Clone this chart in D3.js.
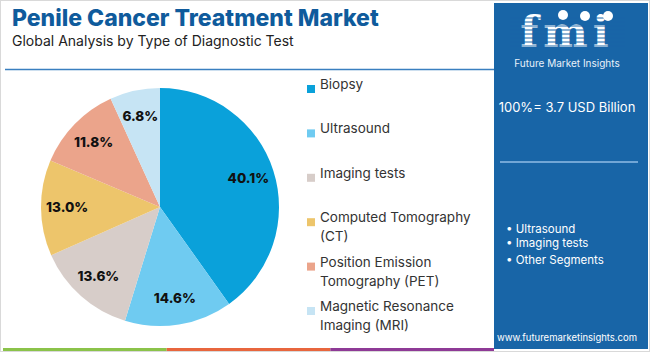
<!DOCTYPE html>
<html>
<head>
<meta charset="utf-8">
<script src="https://cdn.jsdelivr.net/npm/d3@7"></script>
<style>
  body { margin: 0; background: #fff; }
  svg { display: block; font-family: "Inter", "Noto Sans", sans-serif; }
</style>
</head>
<body>
<svg id="chart" width="650" height="352"></svg>
<script>
// data
const categories = ["Biopsy", "Ultrasound", "Imaging tests", "Computed Tomography (CT)",
  "Position Emission Tomography (PET)", "Magnetic Resonance Imaging (MRI)"]
const legend_lines = [["Biopsy"], ["Ultrasound"], ["Imaging tests"], ["Computed Tomography", "(CT)"],
  ["Position Emission", "Tomography (PET)"], ["Magnetic Resonance", "Imaging (MRI)"]]
const shares = [40.1, 14.6, 13.6, 13.0, 11.8, 6.8]
const slice_colors = ["#0aa1da", "#6fcbf1", "#d7cdc9", "#edc56b", "#eba48b", "#c6e4f4"]
const side_bullets = ["Ultrasound", "Imaging tests", "Other Segments"]
const total_label = "100%= 3.7 USD Billion"
const stripe_colors = ["#8bc34a", "#e8663d", "#8e3a96"]

const svg = d3.select("#chart")

// frame
svg.append("rect").attr("x", 0.5).attr("y", 0.5).attr("width", 649).attr("height", 351)
  .attr("fill", "#fff").attr("stroke", "#d9d9d9")

// title
svg.append("text").attr("x", 12).attr("y", 26)
  .attr("font-size", 23).attr("font-weight", 800).attr("fill", "#0f5b9c")
  .text("Penile Cancer Treatment Market")
svg.append("text").attr("x", 12).attr("y", 46)
  .attr("font-size", 14).attr("fill", "#222")
  .text("Global Analysis by Type of Diagnostic Test")
svg.append("line").attr("x1", 5).attr("x2", 494).attr("y1", 69.5).attr("y2", 69.5)
  .attr("stroke", "#3a7fc0").attr("stroke-width", 1.5)

// bottom stripe
const stripe = d3.scaleBand().domain(d3.range(stripe_colors.length)).range([3, 494])
svg.selectAll("rect.stripe").data(stripe_colors).join("rect")
  .classed("stripe", true)
  .attr("x", (d, i) => stripe(i)).attr("y", 348)
  .attr("width", stripe.bandwidth()).attr("height", 3)
  .attr("fill", d => d)

// pie
const cx = 160, cy = 207, R = 119
const pie = d3.pie().sort(null).value(d => d)
const arc = d3.arc().innerRadius(0).outerRadius(R)
const label_arc = d3.arc().innerRadius(R * 0.78).outerRadius(R * 0.78)
const g = svg.append("g").attr("transform", `translate(${cx},${cy})`)
const arcs = pie(shares)
g.selectAll("path").data(arcs).join("path")
  .attr("d", arc)
  .attr("fill", (d, i) => slice_colors[i])
g.selectAll("text").data(arcs).join("text")
  .attr("transform", d => `translate(${label_arc.centroid(d)})`)
  .attr("text-anchor", "middle").attr("dy", "0.35em")
  .attr("font-size", 13.5).attr("font-weight", 800).attr("fill", "#111")
  .text(d => d3.format(".1f")(d.data) + "%")

// legend
const legend_y = d3.scalePoint().domain(categories).range([89, 311])
const lg = svg.selectAll("g.legend").data(categories).join("g")
  .classed("legend", true)
  .attr("transform", d => `translate(307,${legend_y(d)})`)
lg.append("rect").attr("x", 0).attr("y", -4).attr("width", 8).attr("height", 8)
  .attr("fill", (d, i) => slice_colors[i])
lg.append("text").attr("x", 13).attr("dy", "0.35em")
  .attr("font-size", 13.5).attr("fill", "#333")
  .selectAll("tspan").data((d, i) => legend_lines[i]).join("tspan")
    .attr("x", 13).attr("dy", (d, i) => i ? 19 : 0)
    .text(d => d)

// side panel
const side = svg.append("g")
side.append("rect").attr("x", 494).attr("y", 3).attr("width", 154).attr("height", 346)
  .attr("fill", "#1865a7")
// logo
const logo = side.append("g")
logo.append("text").attr("x", 567).attr("y", 47).attr("text-anchor", "middle")
  .attr("font-family", "DejaVu Serif").attr("font-weight", 700)
  .attr("font-size", 42).attr("fill", "#fff").attr("letter-spacing", 5)
  .text("fmi")
logo.selectAll("line").data(d3.range(18, 49, 4)).join("line")
  .attr("x1", 510).attr("x2", 625).attr("y1", d => d).attr("y2", d => d)
  .attr("stroke", "#1865a7").attr("stroke-width", 1)
logo.selectAll("circle").data([[563, 15], [585, 16], [608, 16]]).join("circle")
  .attr("cx", d => d[0]).attr("cy", d => d[1]).attr("r", 5)
  .attr("fill", "#fff")
logo.append("text").attr("x", 567).attr("y", 67).attr("text-anchor", "middle")
  .attr("font-size", 10).attr("fill", "#e8f1fa")
  .text("Future Market Insights")

side.append("text").attr("x", 567).attr("y", 112).attr("text-anchor", "middle")
  .attr("font-size", 13).attr("fill", "#fff").text(total_label)
side.append("line").attr("x1", 500).attr("x2", 638).attr("y1", 162).attr("y2", 162)
  .attr("stroke", "#8fbde6").attr("stroke-width", 1.5)
side.selectAll("text.bullet").data(side_bullets).join("text")
  .classed("bullet", true)
  .attr("x", 506).attr("y", (d, i) => [233, 247, 264][i])
  .attr("font-size", 11.5).attr("fill", "#fff")
  .text(d => "\u2022 " + d)
side.append("text").attr("x", 567).attr("y", 341).attr("text-anchor", "middle")
  .attr("font-size", 9.5).attr("fill", "#fff").text("www.futuremarketinsights.com")
</script>
</body>
</html>
